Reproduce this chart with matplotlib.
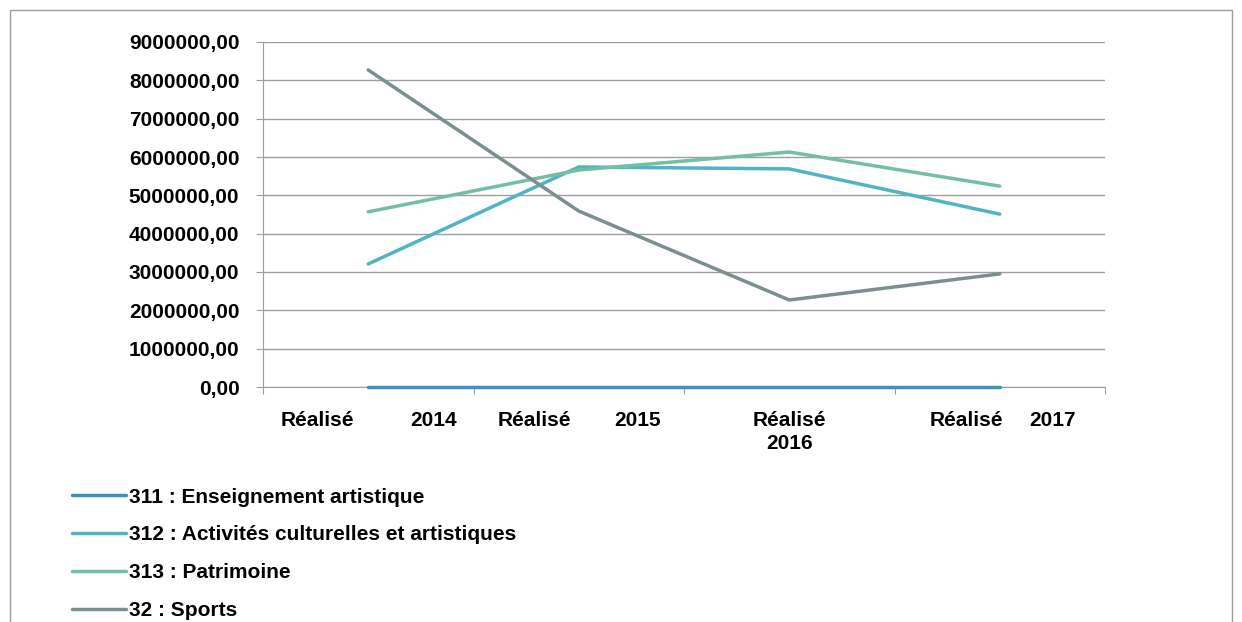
import matplotlib
matplotlib.use('Agg')
import matplotlib.pyplot as plt
from matplotlib.patches import Rectangle
from matplotlib.ticker import FuncFormatter

plt.rcParams['font.family'] = ['Liberation Sans', 'DejaVu Sans']
plt.rcParams['font.weight'] = 'bold'

categories = ['Réalisé 2014', 'Réalisé 2015', 'Réalisé 2016', 'Réalisé 2017']
series_names = ['311 : Enseignement artistique',
                '312 : Activités culturelles et artistiques',
                '313 : Patrimoine',
                '32 : Sports']
enseignement = [0, 0, 0, 0]
activites = [3210000, 5740000, 5690000, 4510000]
patrimoine = [4570000, 5660000, 6130000, 5240000]
sports = [8270000, 4590000, 2270000, 2950000]
colors = ['#3A93BE', '#4FB4C3', '#73BFA4', '#7B8E90']

W, H = 1242, 622
fig = plt.figure(figsize=(W / 100, H / 100), dpi=100)
ax = fig.add_axes([263 / W, 1 - 387 / H, (1105 - 263) / W, (387 - 42) / H])

x = list(range(len(categories)))
for vals, name, c in zip([enseignement, activites, patrimoine, sports], series_names, colors):
    ax.plot(x, vals, color=c, lw=2.5, label=name, solid_capstyle='round',
            clip_on=False, zorder=3)

ax.set_xlim(-0.5, 3.5)
ax.set_ylim(0, 9000000)
ax.set_yticks(range(0, 9000001, 1000000))
ax.yaxis.set_major_formatter(FuncFormatter(lambda v, p: f"{v:.2f}".replace('.', ',')))
ax.grid(axis='y', color='#9E9E9E', lw=1)
ax.set_axisbelow(True)
for s in ['top', 'right']:
    ax.spines[s].set_visible(False)
for s in ['left', 'bottom']:
    ax.spines[s].set_color('#9E9E9E')
ax.tick_params(axis='y', length=5, color='#9E9E9E', pad=12, labelsize=15)
ax.set_xticks([-0.5, 0.5, 1.5, 2.5, 3.5])
ax.set_xticklabels([])
ax.tick_params(axis='x', length=5, color='#9E9E9E', direction='out')

# category labels, wrapped like the original
label_offsets = [(-0.24, 0.31), (-0.21, 0.28), None, (-0.16, 0.25)]
for i, cat in enumerate(categories):
    word, year = cat.split(' ')
    off = label_offsets[i]
    if off is None:
        ax.text(i, -620000, word + '\n' + year, ha='center', va='top', fontsize=15,
                linespacing=1.25)
    else:
        ax.text(i + off[0], -620000, word, ha='center', va='top', fontsize=15)
        ax.text(i + off[1], -620000, year, ha='center', va='top', fontsize=15)

fig.legend(loc='upper left', bbox_to_anchor=(53 / W, 1 - 469 / H), frameon=False,
           fontsize=15, handlelength=2.6, handletextpad=0.15, labelspacing=0.9)

fig.patches.append(Rectangle((10 / W, -0.1), 1222 / W, 1.1 - 10 / H, transform=fig.transFigure,
                             fill=False, edgecolor='#9E9E9E', lw=1))

fig.savefig('out.png', dpi=100)
